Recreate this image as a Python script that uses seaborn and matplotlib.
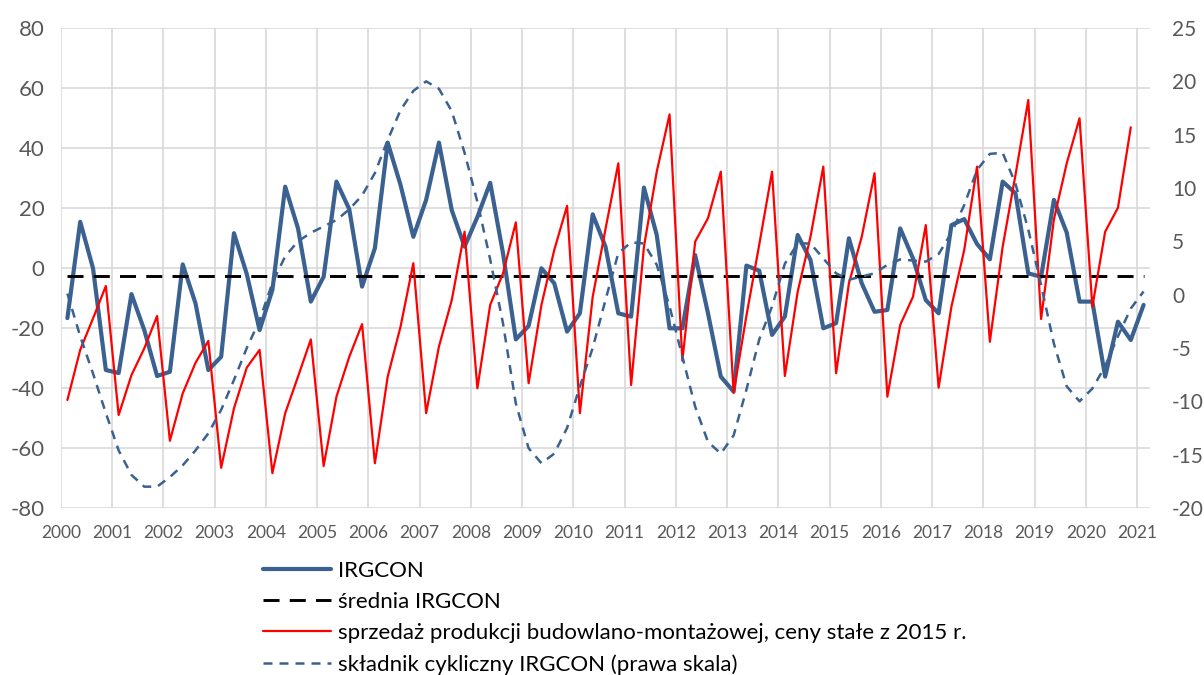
import numpy as np
import pandas as pd
import matplotlib
matplotlib.use("Agg")
import matplotlib.pyplot as plt
import seaborn as sns

# ---------------- data (quarterly, 2000Q1 ...) ----------------
years = list(range(2000, 2022))
tick_labels = [str(y) for y in years]

irgcon = [
    -16.7, 15.4, -0.1, -34.0,
    -35.0, -8.7, -20.7, -36.0,
    -34.6, 1.2, -11.8, -34.0,
    -29.6, 11.6, -2.0, -20.7,
    -7.3, 27.1, 13.2, -11.2,
    -2.9, 28.8, 19.6, -6.2,
    6.6, 41.8, 27.7, 10.4,
    22.7, 41.8, 19.3, 7.1,
    17.0, 28.4, 4.9, -23.8,
    -19.3, -0.1, -5.1, -21.2,
    -15.1, 17.9, 7.1, -15.1,
    -16.2, 26.8, 11.0, -20.1,
    -20.1, 4.3, -15.1, -36.2,
    -41.2, 0.8, -0.9, -22.3,
    -16.2, 11.0, 2.7, -20.1,
    -18.4, 9.9, -5.1, -14.6,
    -14.0, 13.2, 3.2, -10.7,
    -15.1, 14.3, 16.3, 8.0,
    2.9, 28.8, 24.9, -1.8,
    -2.9, 22.7, 11.8, -11.2,
    -11.2, -36.2, -17.9, -24.0,
    -12.3,
]

sprzedaz = [
    -44.0, -27.3, -16.8, -6.0,
    -49.0, -35.7, -26.8, -16.0,
    -57.6, -41.8, -31.6, -24.3,
    -66.6, -46.8, -33.2, -27.3,
    -68.4, -48.4, -36.2, -23.8,
    -66.0, -42.9, -29.6, -18.7,
    -65.1, -36.2, -19.6, 1.6,
    -48.4, -26.2, -10.7, 12.1,
    -40.1, -12.3, -1.8, 15.2,
    -38.4, -12.3, 6.0, 20.7,
    -48.4, -9.6, 13.0, 34.9,
    -39.0, 7.1, 32.1, 51.2,
    -30.9, 8.8, 16.6, 32.1,
    -41.6, -15.9, 7.8, 32.1,
    -36.0, -7.9, 10.4, 33.8,
    -35.1, -5.1, 10.4, 31.6,
    -42.9, -19.0, -9.6, 14.3,
    -39.9, -12.9, 6.0, 33.8,
    -24.6, 7.1, 31.0, 56.0,
    -17.0, 16.2, 34.9, 49.9,
    -12.9, 12.1, 20.1, 46.9,
]

cykl = [
    0.1, -3.9, -7.4, -11.1,
    -14.6, -16.9, -18.0, -18.0,
    -17.1, -16.0, -14.6, -13.0,
    -10.8, -8.0, -5.0, -2.4,
    1.1, 3.6, 5.0, 5.8,
    6.4, 7.0, 8.0, 9.3,
    11.4, 14.5, 17.3, 19.1,
    20.0, 19.3, 17.2, 13.3,
    8.7, 3.3, -2.7, -10.2,
    -14.4, -15.8, -14.9, -12.5,
    -8.6, -5.0, -0.5, 3.9,
    4.9, 4.8, 2.8, -1.1,
    -5.8, -10.5, -13.8, -14.9,
    -13.2, -8.9, -4.2, -1.1,
    2.9, 4.8, 4.8, 3.4,
    2.0, 1.4, 1.7, 2.0,
    2.8, 3.3, 3.2, 3.1,
    3.8, 5.8, 8.4, 11.7,
    13.2, 13.3, 10.4, 6.1,
    0.9, -4.6, -8.6, -10.0,
    -8.8, -6.7, -3.9, -1.3,
    0.3,
]

srednia_value = -2.7

labels = [
    "IRGCON",
    "średnia IRGCON",
    "sprzedaż produkcji budowlano-montażowej, ceny stałe z 2015 r.",
    "składnik cykliczny IRGCON (prawa skala)",
]

# quarter centres
n = len(irgcon)
quarters = [2000 + (i + 0.5) / 4 for i in range(n)]
df_main = pd.DataFrame({"t": quarters, "irgcon": irgcon, "cykl": cykl,
                        "srednia": [srednia_value] * n})
df_red = pd.DataFrame({"t": quarters[:len(sprzedaz)], "sprzedaz": sprzedaz})

# ---------------- style ----------------
sns.set_theme(style="white")
plt.rcParams["font.family"] = ["Lato", "DejaVu Sans"]
plt.rcParams["axes.unicode_minus"] = False

BLUE = "#3A6190"
RED = "#FF0000"
GRID = "#D9D9D9"
TICK = "#595959"

fig = plt.figure(figsize=(12.04, 6.75), dpi=100)
ax = fig.add_axes([61 / 1204, 1 - 508 / 675, (1150 - 61) / 1204, (508 - 28) / 675])
ax2 = ax.twinx()

sns.lineplot(data=df_main, x="t", y="irgcon", ax=ax, color=BLUE, linewidth=3.0,
             label=labels[0], legend=False)
sns.lineplot(data=df_main, x="t", y="srednia", ax=ax, color="black", linewidth=2.1,
             linestyle=(0, (5.5, 3.5)), label=labels[1], legend=False)
sns.lineplot(data=df_red, x="t", y="sprzedaz", ax=ax, color=RED, linewidth=1.6,
             label=labels[2], legend=False)
sns.lineplot(data=df_main, x="t", y="cykl", ax=ax2, color=BLUE, linewidth=1.8,
             linestyle=(0, (3.6, 2.8)), label=labels[3], legend=False)

ax.set_xlim(2000, 2021.25)
ax.set_ylim(-80, 80)
ax2.set_ylim(-20, 25)
ax.set_yticks(range(-80, 81, 20))
ax2.set_yticks(range(-20, 26, 5))
ax.set_xticks(years)
ax.set_xticklabels(tick_labels)

ax.grid(True, color=GRID, linewidth=1.2)
ax.set_axisbelow(True)
ax2.grid(False)
for a in (ax, ax2):
    for s in a.spines.values():
        s.set_visible(False)
    a.set_xlabel("")
    a.set_ylabel("")

ax.tick_params(axis="y", labelsize=16, colors=TICK, length=0, pad=12)
ax.tick_params(axis="x", labelsize=12.5, colors=TICK, length=0, pad=12)
ax2.tick_params(axis="y", labelsize=15, colors=TICK, length=0, pad=16)

# ---------------- legend ----------------
h1, l1 = ax.get_legend_handles_labels()
h2, l2 = ax2.get_legend_handles_labels()
leg = fig.legend(h1 + h2, l1 + l2, loc="upper left",
                 bbox_to_anchor=(263 / 1204, 1 - 561 / 675),
                 bbox_transform=fig.transFigure, frameon=False,
                 fontsize=16, borderpad=0, borderaxespad=0,
                 handlelength=3.05, handletextpad=0.33, labelspacing=0.5)
for t in leg.get_texts():
    t.set_color("black")

fig.savefig("out.png", dpi=100)
